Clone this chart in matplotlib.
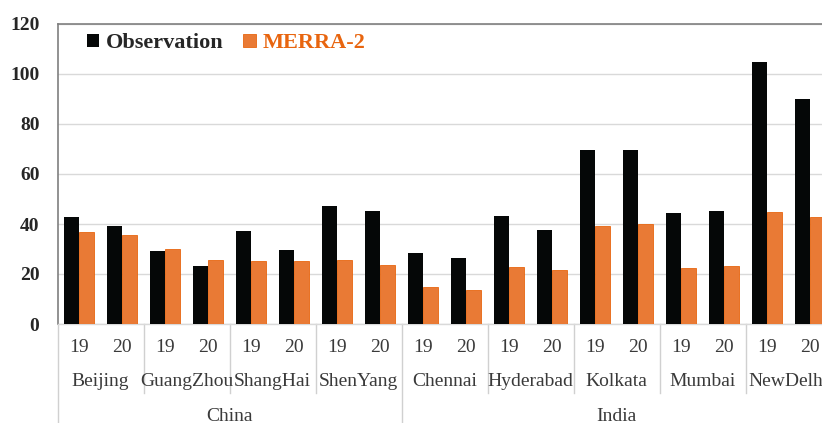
import numpy as np
import matplotlib
matplotlib.use('Agg')
import matplotlib.pyplot as plt
import matplotlib.transforms as mtransforms

plt.rcParams['font.family'] = ['Liberation Serif', 'DejaVu Serif']

# dados
paises = ['China', 'India']
cidades = ['Beijing', 'GuangZhou', 'ShangHai', 'ShenYang',
           'Chennai', 'Hyderabad', 'Kolkata', 'Mumbai', 'NewDelhi']
cidades_por_pais = [4, 5]
anos = ['19', '20']
obs = [42.8, 39.3, 29.3, 23.2, 37.3, 29.8, 47.3, 45.3,
       28.3, 26.3, 43.3, 37.8, 69.6, 69.6, 44.2, 45.3, 104.9, 89.8]
merra = [36.7, 35.8, 30.2, 25.7, 25.1, 25.1, 25.7, 23.6,
         14.7, 13.8, 22.7, 21.8, 39.2, 39.9, 22.3, 23.2, 44.8, 42.8]

cor_obs = '#050707'
cor_merra = '#E97A35'
cinza_txt = '#3a3a3a'

n = len(obs)
x = np.arange(n)
w = 0.355

W, H = 822, 423
fig = plt.figure(figsize=(W/100, H/100), dpi=100)
x0, x1 = 57.5, 57.5 + 43*n
y0, y1 = 324, 24
ax = fig.add_axes([x0/W, (H-y0)/H, (x1-x0)/W, (y0-y1)/H])

ax.bar(x - w/2, obs, w, color=cor_obs, label='Observation', zorder=3)
ax.bar(x + w/2, merra, w, color=cor_merra, edgecolor='#E8650F', linewidth=0.6,
       label='MERRA-2', zorder=3)

ax.set_xlim(-0.5, n - 0.5)
ax.set_ylim(0, 120)
ax.set_yticks(range(0, 121, 20))
ax.set_yticklabels([str(v) for v in range(0, 121, 20)], fontsize=14,
                   fontweight='bold', color='#262626')
ax.tick_params(axis='y', length=0, pad=13)
ax.set_xticks([])
ax.grid(axis='y', color='#d9d9d9', linewidth=1.0, zorder=0)
ax.set_axisbelow(True)

for s in ['top', 'left']:
    ax.spines[s].set_color('#7f7f7f')
    ax.spines[s].set_linewidth(1.2)
ax.spines['right'].set_visible(False)
ax.spines['bottom'].set_color('#d9d9d9')
ax.spines['bottom'].set_linewidth(1.0)

trans = mtransforms.blended_transform_factory(ax.transData, ax.transAxes)

# eixo de categorias em varios niveis
for i in range(n):
    ax.text(x[i], -0.077, anos[i % 2], transform=trans, ha='center', va='center',
            fontsize=14, color=cinza_txt)
for j, c in enumerate(cidades):
    ax.text(2*j + 0.5, -0.193, c, transform=trans, ha='center', va='center',
            fontsize=14, color=cinza_txt)

inicio = 0
ax.plot([-0.5, -0.5], [0, -0.34], transform=trans, color='#d0d0d0',
        linewidth=1.0, clip_on=False)
for p, k in zip(paises, cidades_por_pais):
    fim = inicio + 2*k
    ax.text((inicio + fim - 1)/2, -0.307, p, transform=trans, ha='center',
            va='center', fontsize=14, color=cinza_txt)
    for j in range(1, k):
        xs = inicio + 2*j - 0.5
        ax.plot([xs, xs], [0, -0.23], transform=trans, color='#d0d0d0',
                linewidth=1.0, clip_on=False)
    xs = fim - 0.5
    ax.plot([xs, xs], [0, -0.34], transform=trans, color='#d0d0d0',
            linewidth=1.0, clip_on=False)
    inicio = fim

leg = ax.legend(loc='upper left', bbox_to_anchor=(0.012, 1.035), ncol=2,
                frameon=False, handlelength=0.55, handleheight=0.55,
                handletextpad=0.3, columnspacing=0.9,
                prop={'size': 16, 'weight': 'bold'})
leg.get_texts()[0].set_color('#262626')
leg.get_texts()[1].set_color('#E8650F')

fig.savefig('out.png', dpi=100)
